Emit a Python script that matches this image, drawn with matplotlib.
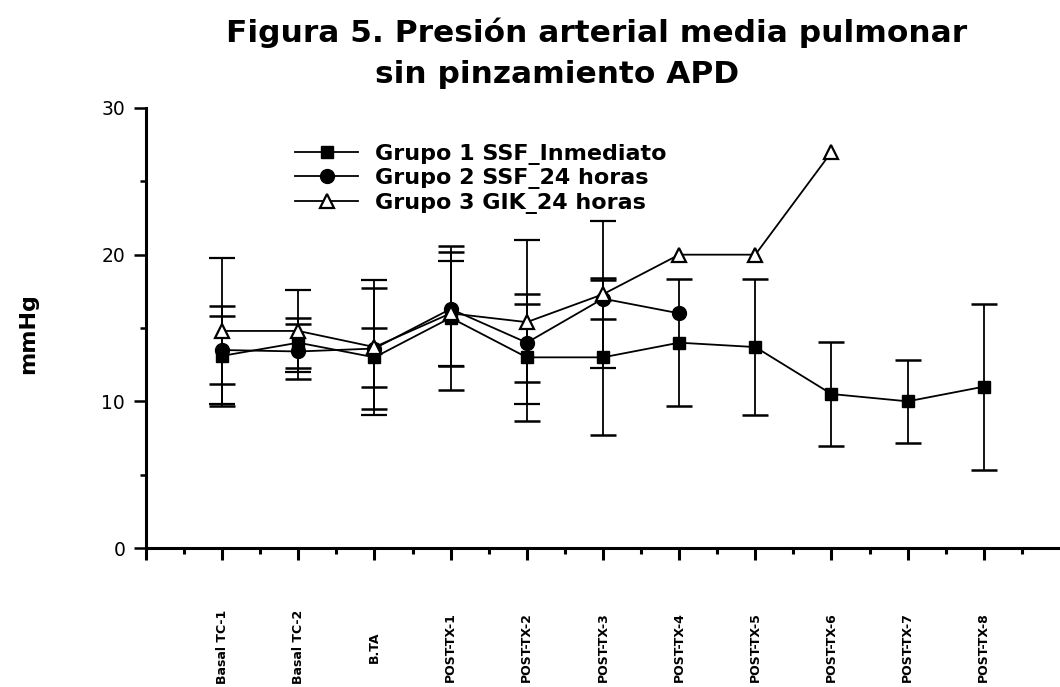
import numpy as np
import matplotlib.pyplot as plt

# categorias del eje x
categorias = ['Basal TC-1', 'Basal TC-2', 'B.TA', 'POST-TX-1', 'POST-TX-2',
              'POST-TX-3', 'POST-TX-4', 'POST-TX-5', 'POST-TX-6', 'POST-TX-7',
              'POST-TX-8']

# medias y desviaciones (mmHg)
grupo1 = [13.1, 14.0, 13.0, 15.7, 13.0, 13.0, 14.0, 13.7, 10.5, 10.0, 11.0]
grupo1_de = [3.4, 1.7, 2.0, 4.9, 4.35, 5.3, 4.35, 4.64, 3.55, 2.84, 5.66]

grupo2 = [13.5, 13.4, 13.6, 16.3, 14.0, 17.0, 16.0]
grupo2_de = [2.3, 1.9, 4.15, 3.9, 2.67, 1.4, np.nan]

grupo3 = [14.8, 14.8, 13.7, 16.0, 15.4, 17.3, 20.0, 20.0, 27.0]
grupo3_de = [5.0, 2.8, 4.6, 3.6, 5.6, 5.0, np.nan, np.nan, np.nan]

nombres = ['Grupo 1 SSF_Inmediato', 'Grupo 2 SSF_24 horas', 'Grupo 3 GIK_24 horas']

fig = plt.figure(figsize=(10.6, 6.87), dpi=100)
ax = fig.add_axes([0.1377, 0.2023, 0.8623, 0.6405])

estilo = dict(color='black', lw=1.3, elinewidth=1.3, capsize=9.5, capthick=1.8)

e1 = ax.errorbar(np.arange(len(grupo1)), grupo1, yerr=grupo1_de, marker='s', ms=9,
                 mfc='black', mec='black', **estilo)
e2 = ax.errorbar(np.arange(len(grupo2)), grupo2, yerr=grupo2_de, marker='o', ms=10,
                 mfc='black', mec='black', **estilo)
e3 = ax.errorbar(np.arange(len(grupo3)), grupo3, yerr=grupo3_de, marker='^', ms=10.5,
                 mfc='white', mec='black', mew=1.6, **estilo)

ax.set_xlim(-1, 11)
ax.set_ylim(0, 30)

for lado in ['top', 'right']:
    ax.spines[lado].set_visible(False)
for lado in ['left', 'bottom']:
    ax.spines[lado].set_linewidth(2.2)

ax.set_yticks([0, 10, 20, 30])
ax.set_yticks([5, 15, 25], minor=True)
ax.tick_params(axis='y', which='major', length=9, width=1.8, labelsize=13.5, pad=6)
ax.tick_params(axis='y', which='minor', length=4.5, width=1.8)

ax.set_xticks(np.arange(-1, 11))
ax.set_xticks(np.arange(-0.5, 11, 1.0), minor=True)
ax.set_xticklabels([''] + categorias, rotation=90, va='center',
                   family=['Liberation Sans Narrow', 'DejaVu Sans'],
                   fontweight='bold', fontsize=9)
ax.tick_params(axis='x', which='major', length=8.5, width=2.2, pad=63)
ax.tick_params(axis='x', which='minor', length=4.5, width=2.2)

# leyenda solo con linea y marcador, sin barras de error
handles = [e1.lines[0], e2.lines[0], e3.lines[0]]
ax.legend(handles, nombres, loc='upper left', bbox_to_anchor=(0.141, 0.964),
          frameon=False, handlelength=2.85, handletextpad=0.75, labelspacing=0.15,
          numpoints=1, prop=dict(family='DejaVu Sans', weight='bold', size=16))

fig.text(0.563, 0.952, 'Figura 5. Presión arterial media pulmonar', ha='center',
         va='center', family='DejaVu Sans', fontweight='bold', fontsize=22.5)
fig.text(0.526, 0.891, 'sin pinzamiento APD', ha='center', va='center',
         family='DejaVu Sans', fontweight='bold', fontsize=22.5)

fig.text(0.027, 0.515, 'mmHg', rotation=90, ha='center', va='center',
         family='DejaVu Sans', fontweight='bold', fontsize=16)

fig.savefig('out.png', dpi=100)
